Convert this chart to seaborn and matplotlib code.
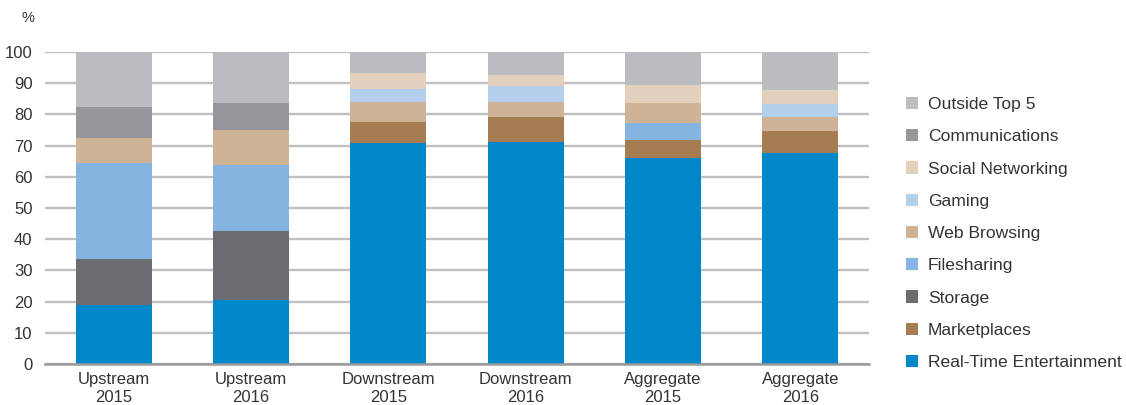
import matplotlib
matplotlib.use("Agg")
import matplotlib.pyplot as plt
import seaborn as sns
import numpy as np
import pandas as pd
from matplotlib.patches import Patch

categories = ["Upstream\n2015", "Upstream\n2016", "Downstream\n2015",
              "Downstream\n2016", "Aggregate\n2015", "Aggregate\n2016"]

real_time_entertainment = [18.9, 20.6, 70.7, 71.2, 66.0, 67.5]
marketplaces            = [0.0, 0.0, 6.9, 8.0, 5.8, 7.2]
storage                 = [14.8, 22.0, 0.0, 0.0, 0.0, 0.0]
filesharing             = [30.6, 21.2, 0.0, 0.0, 5.4, 0.0]
web_browsing            = [8.1, 11.2, 6.4, 4.8, 6.5, 4.5]
gaming                  = [0.0, 0.0, 4.1, 5.1, 0.0, 4.2]
social_networking       = [0.0, 0.0, 5.2, 3.5, 5.7, 4.5]
communications          = [10.0, 8.7, 0.0, 0.0, 0.0, 0.0]
outside_top5            = [17.6, 16.3, 6.7, 7.4, 10.6, 12.1]

series_names = ["Real-Time Entertainment", "Marketplaces", "Storage", "Filesharing",
                "Web Browsing", "Gaming", "Social Networking", "Communications",
                "Outside Top 5"]
series_values = [real_time_entertainment, marketplaces, storage, filesharing,
                 web_browsing, gaming, social_networking, communications, outside_top5]
colors = ["#0087CA", "#A67C52", "#6B6C70", "#86B4E0", "#CFB397",
          "#B3CFEB", "#E2D0BC", "#96979B", "#BBBCC0"]

sns.set_theme(style="white")
plt.rcParams['font.family'] = ['Liberation Sans', 'DejaVu Sans']

fig = plt.figure(figsize=(11.26, 4.05), dpi=100)
ax = fig.add_axes([45/1126, 1 - 364/405, (869-45)/1126, (364-52)/405])

bottom = np.zeros(len(categories))
for name, vals, col in zip(series_names, series_values, colors):
    df = pd.DataFrame({"cat": categories, "val": vals})
    sns.barplot(data=df, x="cat", y="val", color=col, bottom=bottom,
                width=0.555, ax=ax, linewidth=0, saturation=1, errorbar=None)
    bottom = bottom + np.array(vals)

ax.set_ylim(0, 100)
ax.set_xlim(-0.5, len(categories) - 0.5)
ax.set_yticks(range(0, 101, 10))
ax.yaxis.grid(True, color="#C0C0C0", linewidth=1.7)
ax.set_axisbelow(True)
for s in ["top", "right", "left"]:
    ax.spines[s].set_visible(False)
ax.spines["bottom"].set_color("#9A9A9A")
ax.spines["bottom"].set_linewidth(1.8)
ax.set_xlabel("")
ax.set_ylabel("")
ax.tick_params(axis="both", length=0, labelsize=12, colors="#333333")
ax.tick_params(axis="y", pad=9)
ax.tick_params(axis="x", pad=6)
for t in ax.get_xticklabels():
    t.set_linespacing(1.2)

fig.text(28/1126, 1 - 18/405, "%", fontsize=10.5, color="#333333",
         ha="center", va="center")

handles = [Patch(facecolor=c, edgecolor="none", label=n)
           for n, c in zip(series_names[::-1], colors[::-1])]
fig.legend(handles=handles, loc="upper left", bbox_to_anchor=(906/1126, 1 - 97/405),
           frameon=False, fontsize=12.6, handlelength=0.7, handleheight=0.7,
           handletextpad=0.55, labelspacing=0.97, labelcolor="#333333",
           borderaxespad=0, borderpad=0)

fig.savefig("out.png", dpi=100)
